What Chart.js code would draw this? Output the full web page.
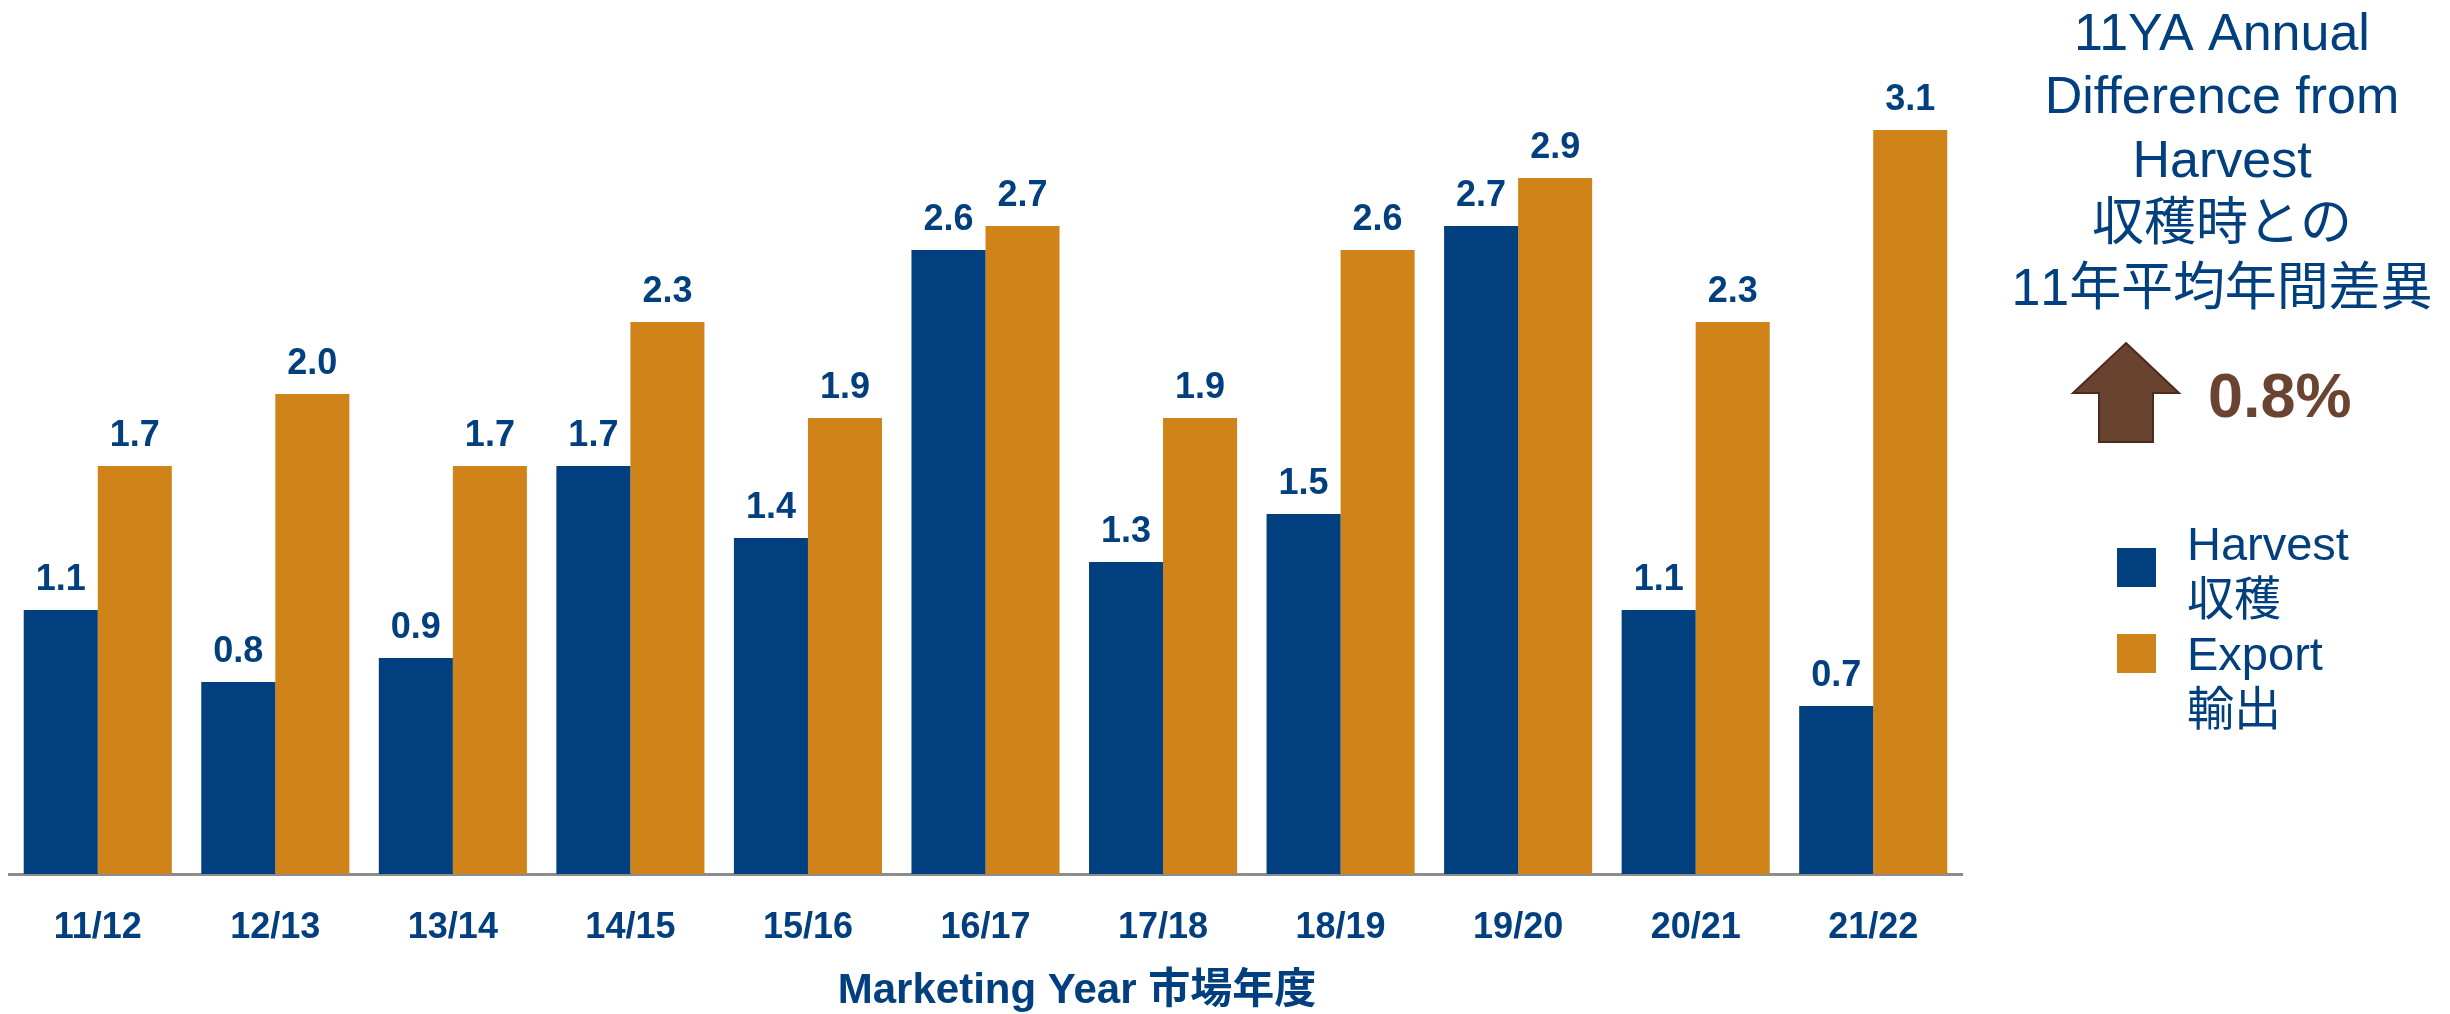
<!DOCTYPE html>
<html>
<head>
<meta charset="utf-8">
<script src="https://cdn.jsdelivr.net/npm/chart.js@4"></script>
<style>
  html, body { margin: 0; padding: 0; background: #fff; }
  #wrap { position: relative; width: 2450px; height: 1014px; }
</style>
</head>
<body>
<div id="wrap"><canvas id="myChart"></canvas></div>
<script>
// data
const years = ['11/12', '12/13', '13/14', '14/15', '15/16', '16/17', '17/18', '18/19', '19/20', '20/21', '21/22'];
const harvest = [1.1, 0.8, 0.9, 1.7, 1.4, 2.6, 1.3, 1.5, 2.7, 1.1, 0.7];
const exportVals = [1.7, 2.0, 1.7, 2.3, 1.9, 2.7, 1.9, 2.6, 2.9, 2.3, 3.1];
const seriesNames = [['Harvest', '収穫'], ['Export', '輸出']];
const axisTitle = 'Marketing Year 市場年度';
const noteLines = ['11YA Annual', 'Difference from', 'Harvest', '収穫時との', '11年平均年間差異'];
const noteValue = '0.8%';

const BLUE = '#023f7e';
const ORANGE = '#d08318';
const BROWN = '#6b4431';
const FONT = '"Liberation Sans", Arial, "Noto Sans CJK JP", sans-serif';

// value labels on top of bars
const barLabels = {
  id: 'barLabels',
  afterDatasetsDraw(chart) {
    const ctx = chart.ctx;
    ctx.save();
    ctx.font = 'bold 36px ' + FONT;
    ctx.fillStyle = BLUE;
    ctx.textAlign = 'center';
    ctx.textBaseline = 'alphabetic';
    chart.data.datasets.forEach((ds, i) => {
      chart.getDatasetMeta(i).data.forEach((bar, j) => {
        ctx.fillText(ds.data[j].toFixed(1), bar.x, bar.y - 20);
      });
    });
    ctx.restore();
  }
};

// spread a line of text over a fixed width, centred on cx
function spreadText(ctx, text, cx, y, width) {
  const chars = Array.from(text);
  const w0 = chars.reduce((s, c) => s + ctx.measureText(c).width, 0);
  const gap = (width - w0) / (chars.length - 1);
  let x = cx - width / 2;
  ctx.textAlign = 'left';
  chars.forEach(c => {
    ctx.fillText(c, x, y);
    x += ctx.measureText(c).width + gap;
  });
  ctx.textAlign = 'center';
}

// axis title, side note and legend
const sidePanel = {
  id: 'sidePanel',
  afterDraw(chart) {
    const ctx = chart.ctx;
    ctx.save();

    ctx.fillStyle = BLUE;
    ctx.textAlign = 'center';
    ctx.textBaseline = 'alphabetic';
    ctx.font = 'bold 42px ' + FONT;
    ctx.fillText(axisTitle, 1077, 1003);

    // note
    ctx.font = '52px ' + FONT;
    const baselines = [50, 113, 177, 240, 305];
    noteLines.forEach((t, i) => {
      if (i === 4) spreadText(ctx, t, 2222, baselines[i], 421);
      else ctx.fillText(t, 2222, baselines[i]);
    });

    // arrow
    ctx.beginPath();
    ctx.moveTo(2126, 343);
    ctx.lineTo(2179, 393);
    ctx.lineTo(2153, 393);
    ctx.lineTo(2153, 442);
    ctx.lineTo(2099, 442);
    ctx.lineTo(2099, 393);
    ctx.lineTo(2073, 393);
    ctx.closePath();
    ctx.fillStyle = '#6a4230';
    ctx.fill();
    ctx.strokeStyle = '#4a2c1c';
    ctx.lineWidth = 2;
    ctx.stroke();

    ctx.fillStyle = BROWN;
    ctx.textAlign = 'left';
    ctx.font = 'bold 63px ' + FONT;
    ctx.fillText(noteValue, 2208, 417);

    // legend
    const boxTops = [548, 634];
    ctx.font = '47px ' + FONT;
    chart.data.datasets.forEach((ds, i) => {
      ctx.fillStyle = ds.backgroundColor;
      ctx.fillRect(2117, boxTops[i], 39, 39);
      ctx.fillStyle = BLUE;
      const base = 560 + i * 110;
      ds.label.forEach((t, k) => ctx.fillText(t, 2187, base + k * 55));
    });

    ctx.restore();
  }
};

const data = {
  labels: years,
  datasets: [
    { label: seriesNames[0], data: harvest, backgroundColor: BLUE },
    { label: seriesNames[1], data: exportVals, backgroundColor: ORANGE }
  ]
};

const config = {
  type: 'bar',
  data,
  options: {
    responsive: true,
    maintainAspectRatio: false,
    animation: false,
    devicePixelRatio: 1,
    layout: { padding: { left: 9, right: 488, top: 10, bottom: 0 } },
    datasets: { bar: { categoryPercentage: 0.834, barPercentage: 1.0 } },
    plugins: { legend: { display: false }, tooltip: { enabled: false } },
    scales: {
      x: {
        grid: { display: false },
        border: { display: true, color: '#8c8c8c', width: 3 },
        ticks: { color: BLUE, font: { family: FONT, size: 36, weight: 'bold' }, padding: 24, maxRotation: 0 },
        afterFit: (s) => { s.height = 140; }
      },
      y: { display: false, min: 0, max: 3.6 }
    }
  },
  plugins: [barLabels, sidePanel]
};

const myChart = new Chart(document.getElementById('myChart'), config);
</script>
</body>
</html>
